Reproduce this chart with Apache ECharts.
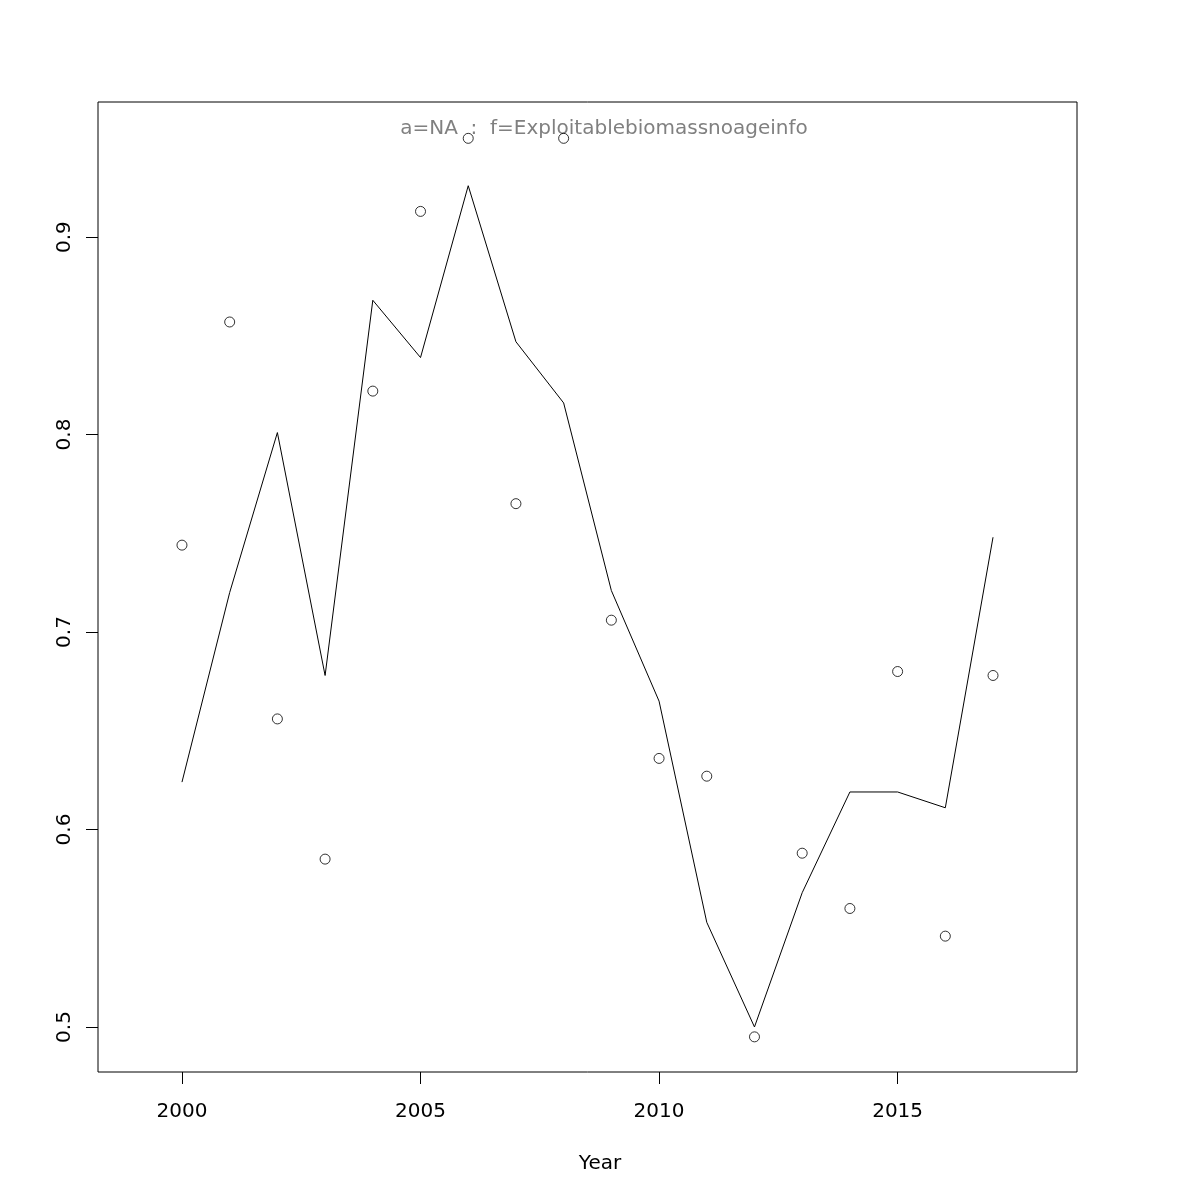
<!DOCTYPE html>
<html>
<head>
<meta charset="utf-8">
<script src="https://cdn.jsdelivr.net/npm/echarts@6/dist/echarts.min.js"></script>
<style>html,body{margin:0;padding:0;background:#fff}#c{width:1200px;height:1200px}</style>
</head>
<body>
<div id="c"></div>
<script>
const years = [2000,2001,2002,2003,2004,2005,2006,2007,2008,2009,2010,2011,2012,2013,2014,2015,2016,2017];
const observed = [0.744,0.857,0.656,0.585,0.822,0.913,0.950,0.765,0.950,0.706,0.636,0.627,0.495,0.588,0.560,0.680,0.546,0.678];
const fitted = [0.624,0.720,0.801,0.678,0.868,0.839,0.926,0.847,0.816,0.721,0.665,0.553,0.500,0.568,0.619,0.619,0.611,0.748];
const xTicks = [2000,2005,2010,2015];
const yTicks = [0.5,0.6,0.7,0.8,0.9];
const titleText = 'a=NA  :  f=Exploitablebiomassnoageinfo';
const xName = 'Year';

const chart = echarts.init(document.getElementById('c'));
const font = 'DejaVu Sans';
chart.setOption({
  animation: false,
  backgroundColor: '#fff',
  graphic: [
    {type: 'text', style: {text: titleText, x: 604, y: 129, align: 'center', verticalAlign: 'middle',
      font: '20px "DejaVu Sans"', fill: '#808080'}},
    {type: 'text', style: {text: xName, x: 600, y: 1164, align: 'center', verticalAlign: 'middle',
      font: '20px "DejaVu Sans"', fill: '#000'}}
  ],
  grid: {left: 98, top: 102, width: 979, height: 970, show: true, borderColor: '#000', borderWidth: 1, backgroundColor: 'transparent'},
  xAxis: {
    type: 'value', min: 1998.24, max: 2018.76,
    axisLine: {show: false},
    splitLine: {show: false},
    axisTick: {show: true, length: 12, lineStyle: {color: '#000'}, customValues: xTicks},
    axisLabel: {fontFamily: font, fontSize: 20, color: '#000', margin: 30, customValues: xTicks, formatter: v => String(v)}
  },
  yAxis: {
    type: 'value', min: 0.4772, max: 0.9684,
    axisLine: {show: false},
    splitLine: {show: false},
    axisTick: {show: true, length: 12, lineStyle: {color: '#000'}, customValues: yTicks},
    axisLabel: {fontFamily: font, fontSize: 20, color: '#000', margin: 23, rotate: 90, customValues: yTicks, formatter: v => v.toFixed(1)}
  },
  series: [
    {
      type: 'line', data: years.map((y,i)=>[y, fitted[i]]),
      showSymbol: false, lineStyle: {color: '#000', width: 1}, silent: true
    },
    {
      type: 'scatter', data: years.map((y,i)=>[y, observed[i]]),
      symbol: 'circle', symbolSize: 10,
      itemStyle: {color: 'rgba(0,0,0,0)', borderColor: '#000', borderWidth: 1}
    }
  ]
});
</script>
</body>
</html>
